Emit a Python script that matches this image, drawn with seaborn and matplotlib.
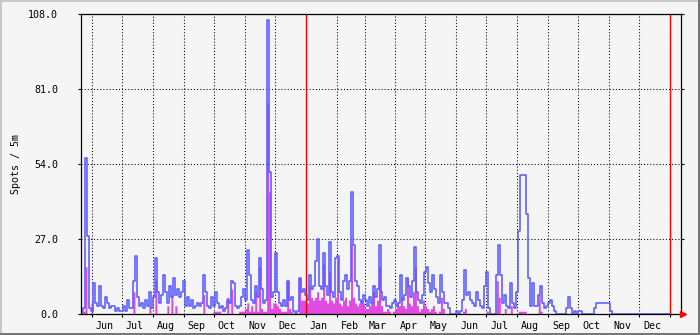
import numpy as np
import pandas as pd
import matplotlib
matplotlib.use("Agg")
import matplotlib.pyplot as plt
import matplotlib.dates as mdates
import matplotlib.ticker as mticker
from matplotlib.patches import Rectangle
import seaborn as sns

# ---------------- data (one sample every 2 days from 2021-05-21) ----------------
start_date = "2021-05-21"
sample_days = 2
spots_max = [
    1, 2, 56, 28, 2, 1, 11, 4, 3, 10,
    3, 2, 6, 4, 2, 3, 3, 1, 2, 1,
    1, 3, 1, 5, 2, 2, 12, 21, 6, 3,
    4, 2, 5, 3, 8, 2, 6, 20, 8, 4,
    7, 14, 8, 4, 10, 6, 13, 7, 9, 6,
    8, 12, 3, 6, 3, 5, 2, 3, 4, 3,
    4, 14, 8, 3, 2, 6, 3, 8, 4, 2,
    3, 1, 2, 5, 4, 12, 11, 3, 2, 3,
    6, 9, 5, 23, 14, 5, 4, 10, 6, 20,
    9, 4, 5, 106, 51, 6, 8, 22, 8, 4,
    3, 5, 3, 12, 5, 6, 1, 0, 1, 13,
    8, 9, 7, 5, 14, 9, 10, 19, 27, 10,
    9, 22, 10, 7, 26, 8, 6, 20, 21, 8,
    5, 12, 14, 9, 12, 44, 25, 12, 10, 5,
    4, 7, 5, 3, 6, 4, 10, 6, 9, 25,
    8, 5, 6, 3, 3, 2, 4, 5, 3, 4,
    14, 5, 7, 13, 10, 6, 12, 24, 8, 5,
    4, 7, 15, 17, 11, 8, 14, 9, 6, 4,
    14, 8, 4, 4, 2, 0, 0, 0, 1, 0,
    1, 5, 16, 7, 8, 5, 4, 3, 8, 5,
    3, 2, 10, 15, 2, 0, 0, 0, 14, 25,
    14, 4, 7, 3, 2, 11, 4, 2, 8, 30,
    50, 50, 50, 36, 13, 3, 11, 3, 3, 7,
    10, 4, 2, 3, 4, 5, 3, 1, 0, 0,
    0, 0, 0, 2, 6, 2, 0, 1, 0, 1,
    1, 0, 0, 0, 0, 0, 0, 2, 4, 4,
    4, 4, 4, 4, 4, 1, 0, 0, 0, 0,
    0, 0, 0, 0, 0, 0, 0, 0, 0, 0,
    0, 0, 0, 0, 0, 0, 0, 0, 0, 0,
    0, 0, 0, 0, 0,
]
spots_avg = [
    1, 1, 17, 0, 0, 4, 0, 0, 0, 0,
    0, 0, 0, 0, 0, 0, 0, 0, 0, 0,
    0, 0, 0, 0, 0, 0, 8, 0, 0, 0,
    0, 0, 0, 0, 3, 0, 0, 12, 0, 0,
    0, 0, 0, 3, 0, 7, 0, 3, 0, 0,
    0, 0, 0, 0, 0, 0, 0, 0, 0, 0,
    0, 7, 0, 0, 0, 0, 1, 1, 1, 1,
    0, 0, 0, 6, 0, 9, 0, 0, 0, 1,
    1, 1, 2, 4, 1, 3, 1, 8, 1, 17,
    2, 1, 1, 76, 44, 2, 4, 4, 3, 2,
    1, 1, 1, 12, 2, 1, 0, 0, 0, 13,
    5, 5, 5, 4, 10, 6, 5, 6, 8, 5,
    6, 18, 5, 4, 15, 5, 4, 6, 20, 4,
    3, 5, 6, 3, 5, 25, 6, 4, 3, 4,
    5, 4, 2, 2, 3, 4, 8, 3, 5, 17,
    3, 1, 1, 2, 1, 0, 1, 2, 4, 3,
    6, 3, 2, 13, 4, 3, 8, 17, 3, 1,
    2, 5, 3, 2, 1, 2, 3, 1, 0, 1,
    6, 2, 0, 0, 0, 0, 0, 0, 0, 0,
    0, 1, 2, 0, 0, 0, 0, 0, 0, 0,
    0, 0, 0, 1, 0, 0, 0, 0, 12, 6,
    0, 0, 2, 0, 0, 3, 0, 0, 0, 1,
    1, 1, 1, 0, 0, 0, 0, 0, 0, 7,
    1, 0, 0, 0, 0, 0, 0, 0, 0, 0,
    0, 0, 0, 0, 0, 0, 0, 0, 0, 0,
    0, 0, 0, 0, 0, 0, 0, 0, 0, 0,
    0, 0, 0, 0, 0, 0, 0, 0, 0, 0,
    0, 0, 0, 0, 0, 0, 0, 0, 0, 0,
    0, 0, 0, 0, 0, 0, 0, 0, 0, 0,
    0, 0, 0, 0, 0,
]
y_ticks = [0, 27, 54, 81, 108]
year_marks = ["2022-01-01", "2023-01-01"]
y_label = "Spots / 5m"

# ---------------- frame ----------------
W, H = 700, 335
BG = "#f5f5f5"
MONO = "DejaVu Sans Mono"
FS = 7.2

t0 = pd.Timestamp(start_date)
dates = [t0 + pd.Timedelta(days=sample_days * i) for i in range(len(spots_max))]
dates.append(dates[-1] + pd.Timedelta(days=sample_days))
df = pd.DataFrame({
    "date": dates,
    "max": spots_max + [spots_max[-1]],
    "avg": spots_avg + [spots_avg[-1]],
})

fig = plt.figure(figsize=(W / 100, H / 100), dpi=100, facecolor=BG)
ax = fig.add_axes([81 / W, 21 / H, 600 / W, 300 / H])
ax.set_facecolor(BG)

ax.fill_between(df["date"], 0, df["avg"], step="post", color="#e04ce0",
                lw=0, zorder=2)
sns.lineplot(data=df, x="date", y="max", ax=ax, drawstyle="steps-post",
             color="#5c5cff", lw=1.15, zorder=3, legend=False)

for d in year_marks:
    ax.axvline(pd.Timestamp(d), color="#ff0000", lw=1.0, zorder=4)

ax.set_xlim(t0, t0 + pd.Timedelta(days=601))
ax.set_ylim(0, 108)

ax.xaxis.set_major_locator(mdates.MonthLocator())
ax.xaxis.set_major_formatter(mticker.NullFormatter())
ax.xaxis.set_minor_locator(mdates.MonthLocator(bymonthday=14))
ax.xaxis.set_minor_formatter(mdates.DateFormatter("%b"))
ax.tick_params(axis="x", which="major", direction="out", length=2, width=0.8,
               color="black")
ax.tick_params(axis="x", which="minor", length=0, pad=5, labelsize=FS,
               labelcolor="black")
ax.set_yticks(y_ticks)
ax.yaxis.set_major_formatter(mticker.FormatStrFormatter("%.1f"))
ax.tick_params(axis="y", which="major", direction="out", length=2, width=0.8,
               left=True, right=True, pad=14.5, labelsize=FS)
for lab in ax.get_xticklabels(minor=True) + ax.get_yticklabels():
    lab.set_fontfamily(MONO)

ax.grid(True, axis="x", which="major", color="black", lw=0.75,
        ls=(0, (1, 2)), zorder=1)
ax.grid(True, axis="y", which="major", color="black", lw=0.75,
        ls=(0, (1, 2)), zorder=1)
ax.set_axisbelow(True)
for s in ax.spines.values():
    s.set_color("black")
    s.set_linewidth(0.9)
    s.set_zorder(5)

ax.set_xlabel("")
ax.set_ylabel("")
fig.text(16 / W, 0.51, y_label, rotation=90, ha="center", va="center",
         fontsize=FS, family=MONO, color="black")

# arrow at the end of the time axis
ax.plot([1.004], [0], transform=ax.transAxes, marker=">", ms=4.5,
        color="#ff0000", clip_on=False, zorder=6)

# 3D-style outer border
def px_rect(x, y, w, h, color):
    fig.add_artist(Rectangle((x / W, 1 - (y + h) / H), w / W, h / H,
                             transform=fig.transFigure, color=color, lw=0))

px_rect(0, 0, W, 2, "#c8c8c8")
px_rect(0, 0, 2, H, "#c8c8c8")
px_rect(0, H - 2, W, 2, "#777777")
px_rect(W - 2, 0, 2, H, "#777777")

fig.savefig("out.png", dpi=100, facecolor=BG)
